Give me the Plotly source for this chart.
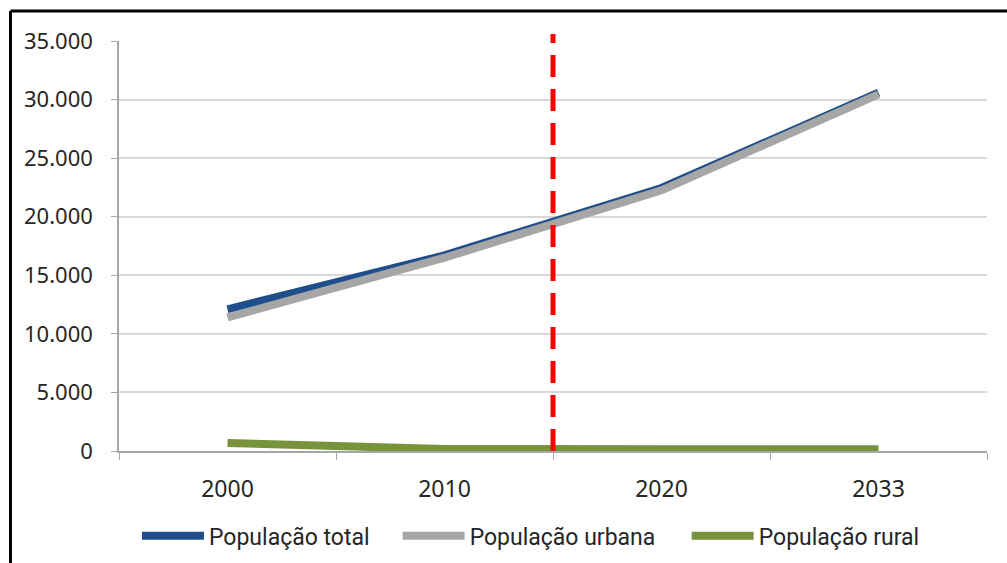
import plotly.graph_objects as go

# Population series (thousands of inhabitants) by census / projection year
anos = ["2000", "2010", "2020", "2033"]
pop_total = [12100, 16700, 22450, 30600]
pop_urbana = [11400, 16500, 22250, 30450]
pop_rural = [680, 170, 150, 150]

series = [
    ("População total", pop_total, "#1F4E8C", "legend", 0.0207),
    ("População urbana", pop_urbana, "#A6A6A6", "legend2", 0.321),
    ("População rural", pop_rural, "#77933C", "legend3", 0.654),
]

fig = go.Figure()
legend_cfg = {}
for nome, valores, cor, leg, lx in series:
    fig.add_trace(go.Scatter(
        x=anos, y=valores, name=nome, mode="lines",
        line=dict(color=cor, width=8), legend=leg,
    ))
    legend_cfg[leg] = dict(
        orientation="h", x=lx, y=-0.207, xanchor="left", yanchor="middle",
        font=dict(family="Roboto, Noto Sans", size=23, color="#262626"),
        itemwidth=62, bgcolor="rgba(0,0,0,0)",
    )

# Vertical dashed marker between 2010 and 2020
fig.add_shape(
    type="line", xref="x", yref="paper",
    x0=1.5, x1=1.5, y0=0, y1=1.017,
    line=dict(color="#FF0000", width=5, dash="22px,12px"),
)

# Outer frame (left and top edges)
fig.add_shape(type="line", xref="paper", yref="paper",
              x0=-0.125, x1=1.03, y0=1.073, y1=1.073,
              line=dict(color="#000000", width=3))
fig.add_shape(type="line", xref="paper", yref="paper",
              x0=-0.125, x1=-0.125, y0=1.073, y1=-0.3,
              line=dict(color="#000000", width=3))

fig.update_layout(
    width=1007, height=563,
    margin=dict(l=119, r=20, t=41, b=112, autoexpand=False),
    paper_bgcolor="white", plot_bgcolor="white",
    separators=",.",
    font=dict(family="Noto Sans", color="#262626"),
    showlegend=True,
    **legend_cfg,
)

fig.update_xaxes(
    type="category", range=[-0.5, 3.5],
    tickson="boundaries", ticks="outside", ticklen=7, tickcolor="#A6A6A6",
    showline=True, linecolor="#A6A6A6", linewidth=1.5,
    showgrid=False, tickfont=dict(size=23), ticklabelstandoff=17,
)
fig.update_yaxes(
    range=[0, 35000], dtick=5000, tickformat=",d",
    ticks="outside", ticklen=6, tickcolor="#A6A6A6",
    showline=True, linecolor="#A6A6A6", linewidth=1.5,
    showgrid=True, gridcolor="#D9D9D9", gridwidth=1.5,
    zeroline=False, tickfont=dict(size=22), ticklabelstandoff=14,
)

fig.write_html("out.html")
